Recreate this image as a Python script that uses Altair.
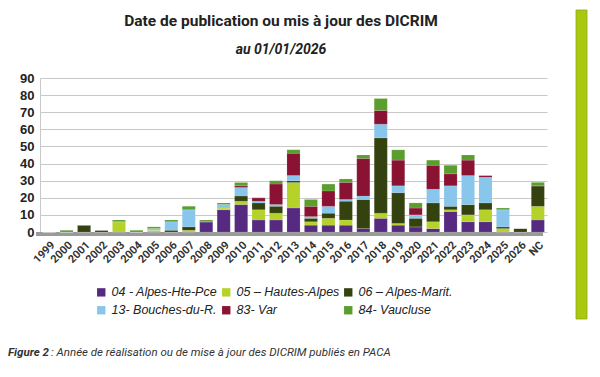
import altair as alt
import pandas as pd

years = ["1999", "2000", "2001", "2002", "2003", "2004", "2005", "2006", "2007",
         "2008", "2009", "2010", "2011", "2012", "2013", "2014", "2015", "2016",
         "2017", "2018", "2019", "2020", "2021", "2022", "2023", "2024", "2025",
         "2026", "NC"]

series_names = ["04 - Alpes-Hte-Pce", "05 – Hautes-Alpes", "06 – Alpes-Marit.",
                "13- Bouches-du-R.", "83- Var", "84- Vaucluse"]
series_colors = ["#552a80", "#b4d22a", "#34420f", "#88c6ec", "#8a1232", "#5a9e2e"]

s04 = [0, 0, 0, 0, 0, 0, 0, 0, 0, 6, 13, 16, 7, 7, 14, 4, 4, 4, 2, 8, 4, 3, 2, 12, 6, 6, 0, 0, 7]
s05 = [0, 0, 0, 0, 6, 0, 1, 0, 1, 0, 1, 2, 6, 4, 15, 2, 4, 3, 0, 3, 1, 0, 4, 1, 4, 7, 2, 0, 8]
s06 = [0, 0, 4, 1, 0, 0, 0, 1, 2, 0, 0, 3, 4, 4, 1, 2, 3, 11, 17, 44, 18, 5, 11, 2, 6, 4, 1, 2, 12]
s13 = [0, 0, 0, 0, 0, 0, 1, 5, 10, 0, 2, 5, 1, 1, 3, 1, 4, 1, 2, 8, 4, 2, 8, 12, 17, 15, 10, 0, 0]
s83 = [0, 0, 0, 0, 0, 0, 0, 0, 0, 0, 0, 1, 2, 12, 13, 6, 9, 10, 22, 8, 15, 4, 14, 7, 9, 1, 0, 0, 0]
s84 = [0, 1, 0, 0, 1, 1, 1, 1, 2, 1, 1, 2, 0, 2, 2, 4, 4, 2, 2, 7, 6, 3, 3, 5, 3, 0, 1, 0, 2]

y_ticks = [0, 10, 20, 30, 40, 50, 60, 70, 80, 90]

title_text = "Date de publication ou mis à jour des DICRIM"
subtitle_text = "au 01/01/2026"
caption_bold = "Figure 2"
caption_rest = " : Année de réalisation ou de mise à jour des DICRIM publiés en PACA"

all_series = [s04, s05, s06, s13, s83, s84]
rows = []
for si, (name, vals) in enumerate(zip(series_names, all_series)):
    for yr, v in zip(years, vals):
        rows.append({"year": yr, "dept": name, "value": v, "order": si})
df = pd.DataFrame(rows)

W = 507
H = 154
PL = 40
PT = 78

xenc = alt.X("year:N", sort=years, title=None,
             scale=alt.Scale(paddingInner=0.25, paddingOuter=0.15),
             axis=alt.Axis(labelAngle=-45, labelFont="Roboto", labelFontSize=11,
                           labelFontWeight="bold", labelColor="#333333",
                           ticks=False, domain=False, labelPadding=7))

bars = alt.Chart(df).mark_bar(stroke="#ffffff", strokeWidth=0.3, strokeOpacity=0.4).encode(
    x=xenc,
    y=alt.Y("sum(value):Q", title=None,
            scale=alt.Scale(domain=[0, 90], nice=False),
            axis=alt.Axis(values=y_ticks, labelFont="Liberation Sans", labelFontSize=13,
                          labelFontWeight="bold", labelColor="#222222",
                          gridColor="#c8c8c8", gridWidth=1, domainColor="#c8c8c8",
                          ticks=False, labelPadding=6)),
    color=alt.Color("dept:N", sort=series_names,
                    scale=alt.Scale(domain=series_names, range=series_colors),
                    legend=alt.Legend(title=None, orient="none", legendX=55, legendY=208,
                                      direction="horizontal",
                                      columns=3, symbolType="square", symbolSize=70,
                                      symbolStrokeWidth=0,
                                      labelFont="Liberation Sans", labelFontSize=12.5,
                                      labelFontStyle="italic", labelColor="#222222",
                                      rowPadding=5, columnPadding=2, labelOffset=4)),
    order=alt.Order("order:Q", sort="ascending"),
)

floor = alt.Chart(pd.DataFrame({"a": [0]})).mark_rect(color="#9a9a9a").encode(
    x=alt.value(-4), x2=alt.value(W - 4), y=alt.value(H), y2=alt.value(H + 4)
)

tdf = pd.DataFrame({"t": [title_text]})
title = alt.Chart(tdf).mark_text(font="Roboto", fontSize=15.5, fontWeight="bold",
                                 color="#222222", align="center", baseline="middle").encode(
    x=alt.value(281 - PL), y=alt.value(21 - PT), text="t:N")

sdf = pd.DataFrame({"t": [subtitle_text]})
subtitle = alt.Chart(sdf).mark_text(font="Roboto", fontSize=14, fontWeight="bold",
                                    fontStyle="italic", color="#222222", align="center",
                                    baseline="middle").encode(
    x=alt.value(281 - PL), y=alt.value(50 - PT), text="t:N")

c1 = alt.Chart(pd.DataFrame({"t": [caption_bold]})).mark_text(
    font="Roboto", fontSize=11.5, fontWeight="bold", fontStyle="italic", color="#333333",
    align="left", baseline="middle").encode(
    x=alt.value(8 - PL), y=alt.value(353 - PT), text="t:N")
c2 = alt.Chart(pd.DataFrame({"t": [caption_rest]})).mark_text(
    font="Roboto", fontSize=11.5, fontStyle="italic", color="#333333",
    align="left", baseline="middle").encode(
    x=alt.value(51 - PL), y=alt.value(353 - PT), text="t:N")

side = alt.Chart(pd.DataFrame({"a": [0]})).mark_rect(color="#a9c80f", stroke="#8fa90c",
                                                     strokeWidth=0.8).encode(
    x=alt.value(576 - PL), x2=alt.value(587 - PL), y=alt.value(10 - PT), y2=alt.value(319 - PT)
)

chart = alt.layer(floor, bars, title, subtitle, c1, c2, side).properties(
    width=W, height=H,
    autosize=alt.AutoSizeParams(type="none"),
    padding={"left": PL, "top": PT, "right": 600 - PL - W, "bottom": 377 - PT - H},
    background="#ffffff",
).configure_view(stroke=None)

chart.save("out.html", embed_options={"renderer": "svg", "actions": False})
